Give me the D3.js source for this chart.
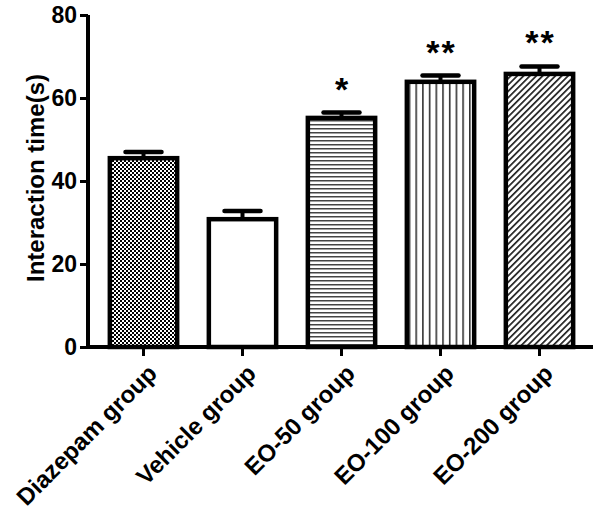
<!DOCTYPE html>
<html>
<head>
<meta charset="utf-8">
<script src="https://cdn.jsdelivr.net/npm/d3@7"></script>
<style>
    body { margin: 0; background: #fff; }
    svg text { font-family: "Liberation Sans", Arial, sans-serif; font-weight: bold; fill: #000; }
</style>
</head>
<body>
<div id="chart"></div>
<script>
// data
const groups = ["Diazepam group", "Vehicle group", "EO-50 group", "EO-100 group", "EO-200 group"];
const means = [45.5, 30.8, 55.2, 63.9, 65.8];
const errors = [1.5, 2.0, 1.3, 1.5, 1.8];
const stars = ["", "", "*", "**", "**"];
const fills = ["checker", "none", "hlines", "vlines", "diag"];
const yTicks = [0, 20, 40, 60, 80];

const width = 600;
const height = 511;

const svg = d3.select("#chart")
    .append("svg")
    .attr("width", width)
    .attr("height", height);

// fill patterns
const defs = svg.append("defs");

const checker = defs.append("pattern")
    .attr("id", "checker")
    .attr("patternUnits", "userSpaceOnUse")
    .attr("width", 4).attr("height", 4);
checker.append("rect").attr("width", 4).attr("height", 4).attr("fill", "#fff");
checker.append("rect").attr("width", 2).attr("height", 2).attr("fill", "#000");
checker.append("rect").attr("x", 2).attr("y", 2).attr("width", 2).attr("height", 2).attr("fill", "#000");

const hl = defs.append("pattern")
    .attr("id", "hlines")
    .attr("patternUnits", "userSpaceOnUse")
    .attr("width", 8).attr("height", 4);
hl.append("rect").attr("width", 8).attr("height", 4).attr("fill", "#fff");
hl.append("rect").attr("y", 0).attr("width", 8).attr("height", 1.5).attr("fill", "#444");

const vl = defs.append("pattern")
    .attr("id", "vlines")
    .attr("patternUnits", "userSpaceOnUse")
    .attr("width", 6.7).attr("height", 8);
vl.append("rect").attr("width", 6.7).attr("height", 8).attr("fill", "#fff");
vl.append("rect").attr("x", 0).attr("width", 1.6).attr("height", 8).attr("fill", "#333");

const dg = defs.append("pattern")
    .attr("id", "diag")
    .attr("patternUnits", "userSpaceOnUse")
    .attr("width", 4.5).attr("height", 4.5)
    .attr("patternTransform", "rotate(45)");
dg.append("rect").attr("width", 4.5).attr("height", 4.5).attr("fill", "#fff");
dg.append("rect").attr("width", 1.7).attr("height", 4.5).attr("fill", "#222");

const x = d3.scaleBand()
    .domain(groups)
    .range([94, 589])
    .paddingInner(0.32)
    .paddingOuter(0.16);

const y = d3.scaleLinear()
    .domain([0, 80])
    .range([347, 15]);

// bars
svg.selectAll(".bar")
    .data(groups)
    .enter().append("rect")
    .attr("class", "bar")
    .attr("x", d => x(d))
    .attr("width", x.bandwidth())
    .attr("y", (d, i) => y(means[i]))
    .attr("height", (d, i) => y(0) - y(means[i]))
    .attr("fill", (d, i) => fills[i] === "none" ? "#fff" : `url(#${fills[i]})`)
    .attr("stroke", "#000")
    .attr("stroke-width", 4.5);

// error bars (upper only)
const eb = svg.selectAll(".err")
    .data(groups)
    .enter().append("g")
    .attr("class", "err");

eb.append("line")
    .attr("x1", d => x(d) + x.bandwidth() / 2)
    .attr("x2", d => x(d) + x.bandwidth() / 2)
    .attr("y1", (d, i) => y(means[i]))
    .attr("y2", (d, i) => y(means[i] + errors[i]))
    .attr("stroke", "#000")
    .attr("stroke-width", 4);

eb.append("line")
    .attr("x1", d => x(d) + x.bandwidth() / 2 - 18)
    .attr("x2", d => x(d) + x.bandwidth() / 2 + 18)
    .attr("y1", (d, i) => y(means[i] + errors[i]))
    .attr("y2", (d, i) => y(means[i] + errors[i]))
    .attr("stroke", "#000")
    .attr("stroke-width", 4.5)
    .attr("stroke-linecap", "round");

// significance stars
svg.selectAll(".star")
    .data(groups)
    .enter().append("text")
    .attr("class", "star")
    .attr("x", d => x(d) + x.bandwidth() / 2 + 1)
    .attr("y", (d, i) => y(means[i] + errors[i]) - 12)
    .attr("text-anchor", "middle")
    .style("font-size", "34px")
    .style("letter-spacing", "2px")
    .text((d, i) => stars[i]);

// y axis
const yAxis = svg.append("g")
    .attr("transform", "translate(88,0)")
    .call(d3.axisLeft(y).tickValues(yTicks).tickSize(8).tickPadding(3));
yAxis.select(".domain").attr("stroke-width", 4).attr("d", `M0,${y(80)}V${y(0) + 2}`);
yAxis.selectAll(".tick line").attr("stroke-width", 3);
yAxis.selectAll(".tick text").style("font-size", "23px");

// x axis
const xAxis = svg.append("g")
    .attr("transform", `translate(0,${y(0)})`)
    .call(d3.axisBottom(x).tickSize(9).tickFormat(""));
xAxis.select(".domain").attr("stroke-width", 4).attr("d", "M86,0H593");
xAxis.selectAll(".tick line").attr("stroke-width", 3);

// rotated category labels
svg.selectAll(".xlabel")
    .data(groups)
    .enter().append("text")
    .attr("class", "xlabel")
    .attr("transform", d => `translate(${x(d) + x.bandwidth() / 2 + 9},${y(0) + 22}) rotate(-45)`)
    .attr("text-anchor", "end")
    .attr("dy", "0.35em")
    .style("font-size", "24px")
    .text(d => d);

// y axis title
svg.append("text")
    .attr("transform", "translate(36,178) rotate(-90)")
    .attr("text-anchor", "middle")
    .attr("dy", "0.35em")
    .style("font-size", "24px")
    .text("Interaction time(s)");
</script>
</body>
</html>
